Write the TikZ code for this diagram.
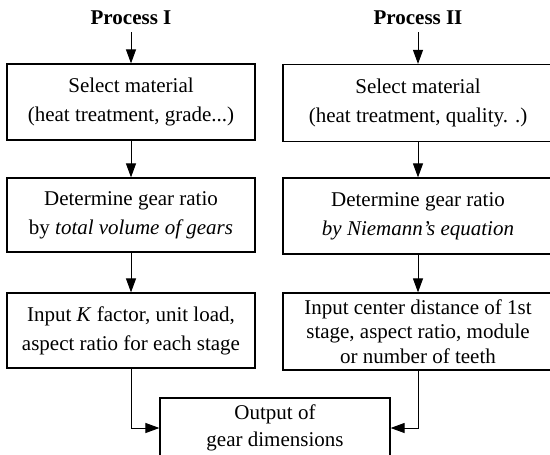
\documentclass[tikz,border=0pt]{standalone}
\usepackage{fontspec}
\setmainfont{Liberation Serif}
\usetikzlibrary{arrows.meta}
\tikzstyle{box}=[draw,line width=0.6pt,align=center,inner sep=0pt,font=\fontsize{10.5}{14.5}\selectfont]
\tikzstyle{left box}=[box,minimum width=124pt]
\tikzstyle{right box}=[box,minimum width=135pt]
\tikzstyle{title}=[font=\fontsize{10.5}{13}\selectfont\bfseries]
\tikzstyle{flow}=[draw,line width=0.5pt,-{Triangle[length=7pt,width=5pt]}]

\begin{document}
\begin{tikzpicture}[x=0.5pt,y=-0.5pt]
    \useasboundingbox (0,0) rectangle (550,454);
    \clip (0,0) rectangle (550,454);

    % process I
    \node[title] (t1) at (131,18) {Process I};
    \node[left box,minimum height=38pt] (a1) at (131,102)
        {Select material\\(heat treatment, grade...)};
    \node[left box,minimum height=37pt] (a2) at (131,215)
        {Determine gear ratio\\by \textit{total volume of gears}};
    \node[left box,minimum height=37.5pt] (a3) at (131,330.5)
        {Input \textit{K} factor, unit load,\\aspect ratio for each stage};

    % process II
    \node[title] (t2) at (418,18) {Process II};
    \node[right box,minimum height=38.5pt] (b1) at (418,103)
        {Select material\\(heat treatment, quality. .)};
    \node[right box,minimum height=38pt] (b2) at (418,216)
        {Determine gear ratio\\\textit{by Niemann's equation}};
    \node[right box,minimum height=38.5pt,font=\fontsize{10.5}{12.3}\selectfont] (b3) at (418,331.5)
        {Input center distance of 1st\\stage, aspect ratio, module\\or number of teeth};

    \node[box,minimum width=115pt,minimum height=30pt,font=\fontsize{10.5}{13.5}\selectfont] (out) at (275,428)
        {Output of\\gear dimensions};

    \foreach \source/\dest in {t1/a1,a1/a2,a2/a3,t2/b1,b1/b2,b2/b3}
        \path[flow] (\source) -- (\dest);
    \path[flow] (a3.south) |- (out.west);
    \path[flow] (b3.south) |- (out.east);
\end{tikzpicture}
\end{document}
